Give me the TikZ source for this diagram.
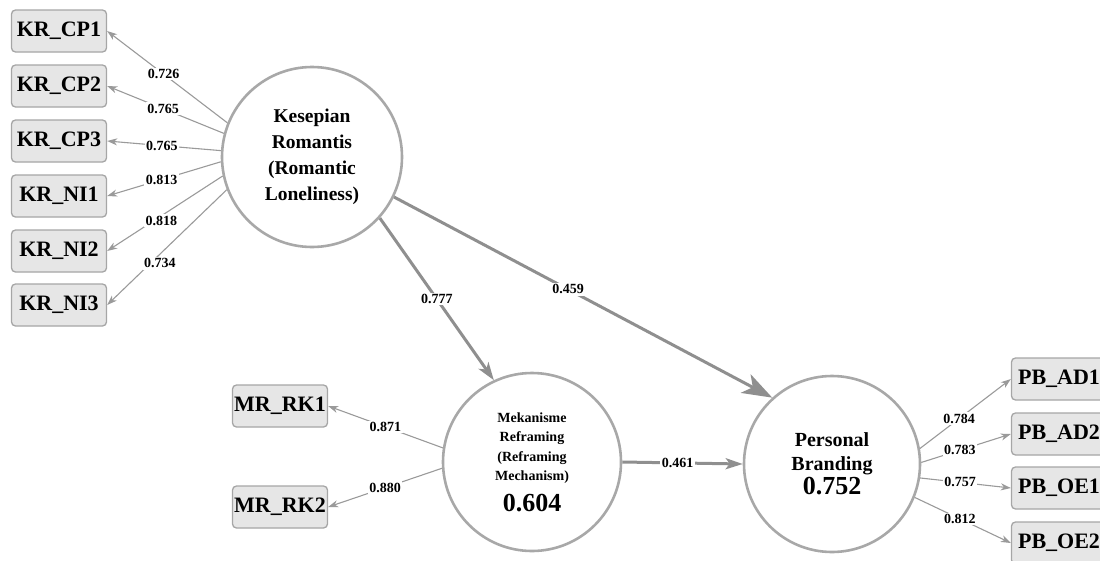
\documentclass[tikz,border=0pt]{standalone}
\usepackage{fontspec}
\setmainfont{Liberation Serif}
\usetikzlibrary{arrows.meta}
\definecolor{edgegray}{HTML}{8F8F8F}
\definecolor{thingray}{HTML}{9A9A9A}
\definecolor{ringgray}{HTML}{A8A8A8}
\definecolor{boxfill}{HTML}{E6E6E6}
\definecolor{boxline}{HTML}{A6A6A6}
\begin{document}
\begin{tikzpicture}[x=1pt,y=-1pt,
  ind/.style={draw=boxline, fill=boxfill, line width=1.3pt, rounded corners=4pt,
    minimum width=95pt, minimum height=42pt, inner sep=0pt,
    font=\fontsize{22}{22}\selectfont\bfseries},
  lat/.style={circle, draw=ringgray, line width=2.6pt, fill=white, inner sep=0pt, align=center},
  load/.style={draw=thingray, line width=1.1pt, -{Stealth[length=10pt,width=7pt,inset=3pt]}},
  struct/.style={draw=edgegray, line width=3pt},
  lbl/.style={fill=white, inner sep=1.5pt, font=\fontsize{14}{14}\selectfont\bfseries}
]
\useasboundingbox (0,0) rectangle (1100,560);

% latent variables
\node[lat, minimum size=180pt, font=\fontsize{19.5}{26}\selectfont\bfseries] (kr) at (312,157)
  {Kesepian\\Romantis\\(Romantic\\Loneliness)};
\node[lat, minimum size=178pt, font=\fontsize{14}{19.5}\selectfont\bfseries] (mr) at (532,462)
  {Mekanisme\\Reframing\\(Reframing\\Mechanism)\\[9pt]{\fontsize{26}{26}\selectfont 0.604}};
\node[lat, minimum size=176pt, font=\fontsize{20}{24}\selectfont\bfseries] (pb) at (832,464)
  {Personal\\Branding\\{\fontsize{26}{26}\selectfont 0.752}};

% indicators
\node[ind] (cp1) at (59,31) {KR\_CP1};
\node[ind] (cp2) at (59,86) {KR\_CP2};
\node[ind] (cp3) at (59,141) {KR\_CP3};
\node[ind] (ni1) at (59,196) {KR\_NI1};
\node[ind] (ni2) at (59,251) {KR\_NI2};
\node[ind] (ni3) at (59,305) {KR\_NI3};
\node[ind] (rk1) at (280,406) {MR\_RK1};
\node[ind] (rk2) at (280,507) {MR\_RK2};
\node[ind] (ad1) at (1059,379) {PB\_AD1};
\node[ind] (ad2) at (1059,434) {PB\_AD2};
\node[ind] (oe1) at (1059,488) {PB\_OE1};
\node[ind] (oe2) at (1059,543) {PB\_OE2};

% outer loadings
\draw[load] (kr.158) -- node[lbl, pos=0.53] {0.726} (cp1.east);
\draw[load] (kr.165) -- node[lbl, pos=0.52] {0.765} (cp2.east);
\draw[load] (kr.176) -- node[lbl, pos=0.52] {0.765} (cp3.east);
\draw[load] (kr.183) -- node[lbl, pos=0.52] {0.813} (ni1.east);
\draw[load] (kr.192.5) -- node[lbl, pos=0.53, yshift=-5pt] {0.818} (ni2.east);
\draw[load] (kr.201) -- node[lbl, pos=0.56, yshift=-9pt] {0.734} (ni3.east);
\draw[load] (mr.171) -- node[lbl] {0.871} (rk1.east);
\draw[load] (mr.184) -- node[lbl] {0.880} (rk2.east);
\draw[load] (pb.10) -- node[lbl, pos=0.43] {0.784} (ad1.west);
\draw[load] (pb.1) -- node[lbl, pos=0.43] {0.783} (ad2.west);
\draw[load] (pb.-9) -- node[lbl, pos=0.44] {0.757} (oe1.west);
\draw[load] (pb.-22) -- node[lbl, pos=0.47] {0.812} (oe2.west);

% structural paths
\draw[struct, -{Stealth[length=18pt,width=12pt,inset=5pt]}] (kr.318) -- node[lbl] {0.777} (mr.115);
\draw[struct, -{Stealth[length=30pt,width=21pt,inset=8pt]}] (kr.334.5) -- node[lbl, pos=0.46] {0.459} (pb.132);
\draw[struct, -{Stealth[length=17pt,width=11pt,inset=4pt]}] (mr.east) -- node[lbl, pos=0.46] {0.461} (pb.west);
\end{tikzpicture}
\end{document}
